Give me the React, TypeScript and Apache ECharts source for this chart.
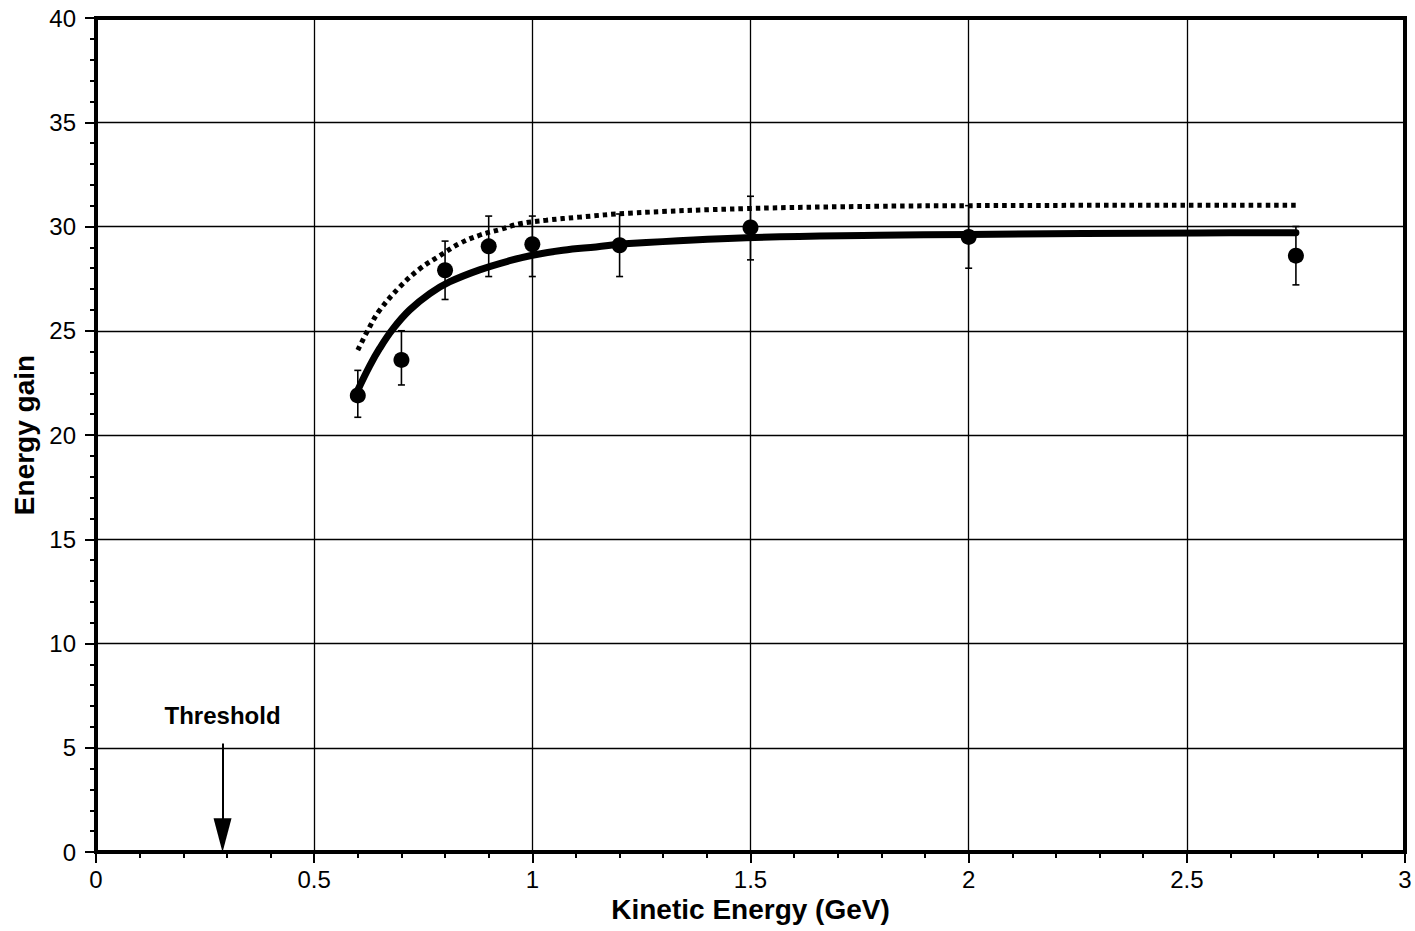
import React, { useEffect, useRef } from "react";
import * as echarts from "echarts";

// Measured data points (kinetic energy in GeV, energy gain)
const pointX = [0.6, 0.7, 0.8, 0.9, 1.0, 1.2, 1.5, 2.0, 2.75];
const pointY = [21.9, 23.6, 27.9, 29.05, 29.15, 29.1, 29.95, 29.5, 28.6];
const errLow = [20.85, 22.4, 26.5, 27.6, 27.6, 27.6, 28.4, 28.0, 27.2];
const errHigh = [23.1, 25.0, 29.3, 30.5, 30.5, 30.6, 31.45, 31.0, 30.0];

// Solid fit curve
const fitX = [0.6, 0.627, 0.65, 0.681, 0.719, 0.765, 0.81, 0.879, 0.948, 1.0, 1.07, 1.146, 1.222, 1.49, 1.795, 2.0, 2.527, 2.75];
const fitY = [22.15, 23.3, 24.15, 25.1, 26.0, 26.78, 27.34, 27.92, 28.36, 28.62, 28.86, 29.02, 29.18, 29.46, 29.58, 29.62, 29.69, 29.7];

// Dotted curve
const dotX = [0.6, 0.627, 0.65, 0.696, 0.742, 0.788, 0.833, 0.879, 0.925, 0.971, 1.032, 1.108, 1.222, 1.49, 1.795, 2.0, 2.527, 2.75];
const dotY = [24.07, 25.18, 25.98, 27.1, 27.97, 28.6, 29.18, 29.58, 29.85, 30.13, 30.3, 30.45, 30.64, 30.86, 30.97, 31.0, 31.02, 31.02];

// Threshold arrow (shaft top and the centre of the arrow head, whose tip touches 0)
const thresholdX = 0.29;
const thresholdTop = 5.2;
const thresholdHeadCentre = 0.8;

const FONT = "'Liberation Sans', Arial, Helvetica, sans-serif";

export default function App() {
  const ref = useRef<HTMLDivElement>(null);
  useEffect(() => {
    if (!ref.current) return;
    const chart = echarts.init(ref.current, undefined, { renderer: "svg" });
    const errData = pointX.map((x, i) => [x, errLow[i], errHigh[i]]);
    chart.setOption({
      animation: false,
      backgroundColor: "#fff",
      grid: {
        left: 96,
        right: 10,
        top: 18,
        bottom: 79,
        show: true,
        borderColor: "#000",
        borderWidth: 4,
        backgroundColor: "transparent",
      },
      xAxis: {
        type: "value",
        min: 0,
        max: 3,
        interval: 0.5,
        name: "Kinetic Energy (GeV)",
        nameLocation: "middle",
        nameGap: 38,
        nameTextStyle: { fontFamily: FONT, fontWeight: "bold", fontSize: 28, color: "#000" },
        axisLine: { show: true, onZero: false, lineStyle: { color: "#000", width: 4 } },
        axisTick: { show: true, inside: false, length: 11, lineStyle: { color: "#000", width: 2 } },
        minorTick: { show: true, splitNumber: 5, length: 6, lineStyle: { color: "#000", width: 2 } },
        axisLabel: { fontFamily: FONT, fontSize: 24, color: "#000", margin: 15 },
        splitLine: { show: true, lineStyle: { color: "#000", width: 1.3 } },
      },
      yAxis: {
        type: "value",
        min: 0,
        max: 40,
        interval: 5,
        name: "Energy gain",
        nameLocation: "middle",
        nameGap: 54,
        nameTextStyle: { fontFamily: FONT, fontWeight: "bold", fontSize: 28, color: "#000" },
        axisLine: { show: true, onZero: false, lineStyle: { color: "#000", width: 4 } },
        axisTick: { show: true, inside: false, length: 11, lineStyle: { color: "#000", width: 2 } },
        minorTick: { show: true, splitNumber: 5, length: 6, lineStyle: { color: "#000", width: 2 } },
        axisLabel: { fontFamily: FONT, fontSize: 24, color: "#000", margin: 20 },
        splitLine: { show: true, lineStyle: { color: "#000", width: 1.3 } },
      },
      series: [
        {
          type: "line",
          name: "dotted",
          data: dotX.map((x, i) => [x, dotY[i]]),
          smooth: 0.4,
          symbol: "none",
          lineStyle: { color: "#000", width: 5, type: [4.5, 4], cap: "butt" },
          z: 3,
          markLine: {
            silent: true,
            symbol: ["none", "triangle"],
            symbolSize: [18, 34],
            lineStyle: { color: "#000", width: 2, type: "solid" },
            label: {
              show: true,
              position: "start",
              formatter: "Threshold",
              fontFamily: FONT,
              fontWeight: "bold",
              fontSize: 24,
              color: "#000",
              distance: 16,
            },
            data: [
              [
                { coord: [thresholdX, thresholdTop] },
                { coord: [thresholdX, thresholdHeadCentre] },
              ],
            ],
          },
        },
        {
          type: "line",
          name: "fit",
          data: fitX.map((x, i) => [x, fitY[i]]),
          smooth: 0.4,
          symbol: "none",
          lineStyle: { color: "#000", width: 7, cap: "round" },
          z: 4,
        },
        {
          type: "custom",
          name: "errors",
          data: errData,
          z: 5,
          renderItem: (params: any, api: any) => {
            const x = api.value(0);
            const lo = api.coord([x, api.value(1)]);
            const hi = api.coord([x, api.value(2)]);
            const cap = 3.5;
            const style = { stroke: "#000", lineWidth: 1.6 };
            return {
              type: "group",
              children: [
                { type: "line", shape: { x1: lo[0], y1: lo[1], x2: hi[0], y2: hi[1] }, style },
                { type: "line", shape: { x1: lo[0] - cap, y1: lo[1], x2: lo[0] + cap, y2: lo[1] }, style },
                { type: "line", shape: { x1: hi[0] - cap, y1: hi[1], x2: hi[0] + cap, y2: hi[1] }, style },
              ],
            };
          },
        },
        {
          type: "scatter",
          name: "data",
          data: pointX.map((x, i) => [x, pointY[i]]),
          symbol: "circle",
          symbolSize: 16,
          itemStyle: { color: "#000", opacity: 1 },
          z: 6,
        },
      ],
    });
    return () => chart.dispose();
  }, []);
  return (
    <div
      ref={ref}
      style={{ position: "fixed", left: 0, top: 0, width: 1415, height: 931, background: "#fff" }}
    />
  );
}
